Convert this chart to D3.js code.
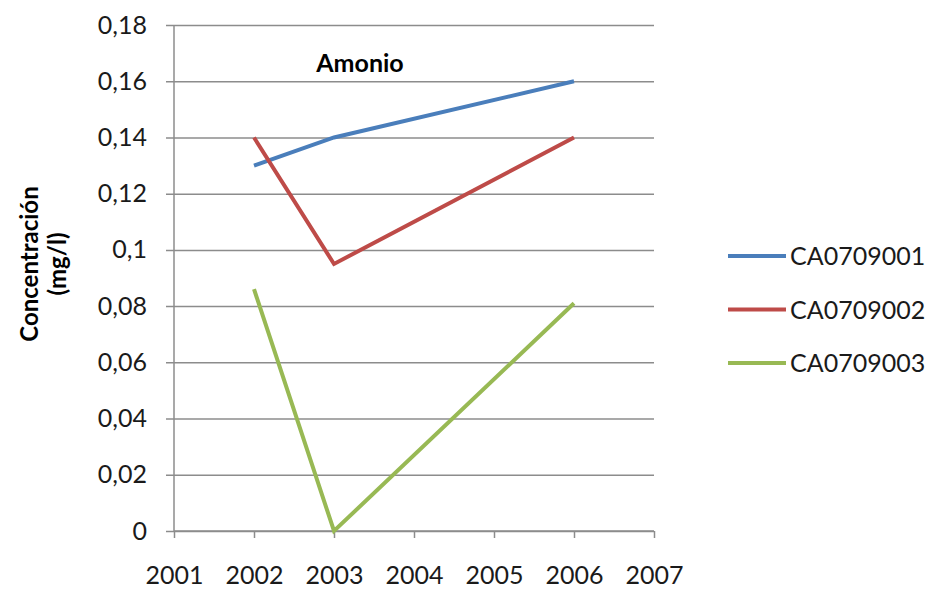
<!DOCTYPE html>
<html>
<head>
<meta charset="utf-8">
<script src="https://cdn.jsdelivr.net/npm/d3@7"></script>
<style>
  body { margin: 0; background: #fff; }
  text { font-family: Lato, "Open Sans", sans-serif; fill: #1a1a1a; }
</style>
</head>
<body>
<div class="js-chart"></div>
<script>
let years = [2002, 2003, 2006];
let ca0709001 = [0.13, 0.14, 0.16];
let ca0709002 = [0.14, 0.095, 0.14];
let ca0709003 = [0.086, 0, 0.081];
let seriesNames = ['CA0709001', 'CA0709002', 'CA0709003'];
let seriesColors = ['#4a7ebb', '#be4b48', '#98b954'];
let xTicks = [2001, 2002, 2003, 2004, 2005, 2006, 2007];
let yTicks = [0, 0.02, 0.04, 0.06, 0.08, 0.1, 0.12, 0.14, 0.16, 0.18];

let w = 930, h = 591;
let svg = d3.select('.js-chart').append('svg').attr('width', w).attr('height', h);

let x = d3.scaleLinear().domain([2001, 2007]).range([174, 654]);
let y = d3.scaleLinear().domain([0, 0.18]).range([531, 25]);

// horizontal gridlines + y labels
let yAxis = d3.axisLeft(y).tickValues(yTicks).tickSize(-(654 - 166)).tickPadding(19)
  .tickFormat(d => String(+d.toFixed(2)).replace('.', ','));
let gy = svg.append('g').attr('transform', 'translate(166,0)').call(yAxis);
gy.select('.domain').remove();
gy.selectAll('.tick line').attr('stroke', '#8c8c8c').attr('stroke-width', 1.5);
gy.selectAll('.tick text').style('font-size', '25px');

// vertical axis line
svg.append('line').attr('x1', 174).attr('x2', 174).attr('y1', 25).attr('y2', 531)
  .attr('stroke', '#8c8c8c').attr('stroke-width', 1.5);

// x axis
let xAxis = d3.axisBottom(x).tickValues(xTicks).tickSize(7).tickPadding(28).tickFormat(d3.format('d'));
let gx = svg.append('g').attr('transform', 'translate(0,531)').call(xAxis);
gx.select('.domain').attr('stroke', '#8c8c8c').attr('stroke-width', 1.5).attr('d', 'M174,0H654');
gx.selectAll('.tick line').attr('stroke', '#8c8c8c').attr('stroke-width', 1.5);
gx.selectAll('.tick text').style('font-size', '25px');

// series
let allSeries = [ca0709001, ca0709002, ca0709003];
let line = d3.line().x((d, i) => x(years[i])).y(d => y(d));
allSeries.forEach((s, k) => {
  svg.append('path').datum(s).attr('d', line).attr('fill', 'none')
    .attr('stroke', seriesColors[k]).attr('stroke-width', 4).attr('stroke-linejoin', 'miter');
});

// title
svg.append('text').attr('x', 360).attr('y', 72).attr('text-anchor', 'middle')
  .style('font-size', '25px').style('font-weight', 'bold').style('fill', '#000').text('Amonio');

// y axis title
let yt = svg.append('text').attr('transform', 'translate(0,264) rotate(-90)')
  .attr('text-anchor', 'middle').style('font-size', '24px').style('font-weight', 'bold').style('fill', '#000');
yt.append('tspan').attr('x', 0).attr('y', 38).text('Concentración');
yt.append('tspan').attr('x', 0).attr('y', 66).text('(mg/l)');

// legend
seriesNames.forEach((name, k) => {
  let ly = 256 + k * 53.5;
  svg.append('line').attr('x1', 728).attr('x2', 786).attr('y1', ly).attr('y2', ly)
    .attr('stroke', seriesColors[k]).attr('stroke-width', 4);
  svg.append('text').attr('x', 790).attr('y', ly + 9).style('font-size', '25px').text(name);
});
</script>
</body>
</html>
